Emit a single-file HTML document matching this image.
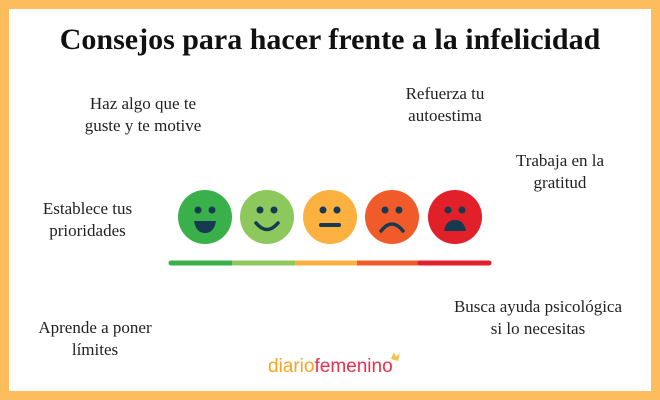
<!DOCTYPE html>
<html><head><style>
body{margin:0;width:660px;height:400px;overflow:hidden;background:#fff;}
.f{position:absolute;left:0;top:0;width:642px;height:382px;border:9px solid #fdbd5d;background:#fff;}
.t{position:absolute;font-family:"Liberation Serif",serif;color:#222;font-size:17px;line-height:22px;text-align:center;}
h1{position:absolute;top:23px;left:0;width:660px;margin:0;text-align:center;font-family:"Liberation Serif",serif;font-size:30px;font-weight:bold;color:#111;}
</style></head><body>
<div class="f"></div>
<h1>Consejos para hacer frente a la infelicidad</h1>
<div class="t" style="left:63px;top:93px;width:160px">Haz algo que te<br>guste y te motive</div>
<div class="t" style="left:375px;top:83px;width:140px">Refuerza tu<br>autoestima</div>
<div class="t" style="left:485px;top:150px;width:150px">Trabaja en la<br>gratitud</div>
<div class="t" style="left:20px;top:198px;width:135px">Establece tus<br>prioridades</div>
<div class="t" style="left:25px;top:317px;width:140px">Aprende a poner<br>límites</div>
<div class="t" style="left:428px;top:296px;width:220px">Busca ayuda psicológica<br>si lo necesitas</div>
<svg style="position:absolute;left:0;top:0" width="660" height="400">
<g fill="#163a52">
<circle cx="205" cy="217" r="27" fill="#3ab04a"/>
<circle cx="198" cy="210" r="3.5"/><circle cx="212" cy="210" r="3.5"/>
<path d="M194 221 H216 Q214 233 205 233 Q196 233 194 221Z"/>
<circle cx="267" cy="217" r="27" fill="#8cc85c"/>
<circle cx="260" cy="210" r="3.5"/><circle cx="274" cy="210" r="3.5"/>
<path d="M256 223 Q267 236 278 223" fill="none" stroke="#163a52" stroke-width="3.5" stroke-linecap="round"/>
<circle cx="330" cy="217" r="27" fill="#fbb040"/>
<circle cx="323" cy="210" r="3.5"/><circle cx="337" cy="210" r="3.5"/>
<rect x="319" y="223" width="22" height="4" rx="2"/>
<circle cx="392" cy="217" r="27" fill="#f15a29"/>
<circle cx="385" cy="210" r="3.5"/><circle cx="399" cy="210" r="3.5"/>
<path d="M381 231 Q392 217 403 231" fill="none" stroke="#163a52" stroke-width="3.5" stroke-linecap="round"/>
<circle cx="455" cy="217" r="27" fill="#e2202a"/>
<circle cx="448" cy="210" r="3.5"/><circle cx="462" cy="210" r="3.5"/>
<path d="M444 231 Q446 220 455 220 Q464 220 466 231Z"/>
</g>
<g stroke-width="5" stroke-linecap="round">
<line x1="171" y1="263" x2="232" y2="263" stroke="#3ab04a"/>
<line x1="232" y1="263" x2="295" y2="263" stroke="#8cc85c" stroke-linecap="butt"/>
<line x1="295" y1="263" x2="357" y2="263" stroke="#fbb040" stroke-linecap="butt"/>
<line x1="357" y1="263" x2="420" y2="263" stroke="#f15a29" stroke-linecap="butt"/>
<line x1="420" y1="263" x2="489" y2="263" stroke="#e2202a"/>
</g>
<text x="268" y="372" font-family="Liberation Sans,sans-serif" font-size="19" fill="#f5a623">diario<tspan fill="#e8304a">femenino</tspan></text>
<path d="M391 359 l3 -7 l2 5 l4 -4 l-2 8z" fill="#f5c243"/>
</svg>
</body></html>
